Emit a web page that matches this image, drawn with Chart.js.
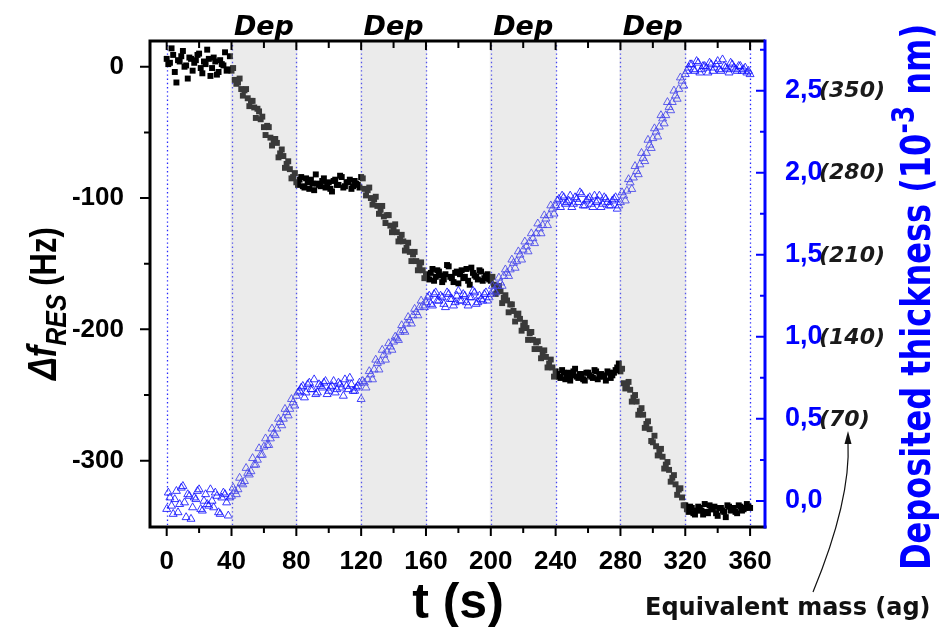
<!DOCTYPE html>
<html>
<head>
<meta charset="utf-8">
<script src="https://cdn.jsdelivr.net/npm/chart.js@4.4.1/dist/chart.umd.min.js"></script>
<style>
  html, body { margin: 0; padding: 0; background: #ffffff; }
  #wrap { width: 940px; height: 627px; }
  canvas { display: block; }
</style>
</head>
<body>
<div id="wrap"><canvas id="c" width="940" height="627"></canvas></div>
<script>
// ---------------- data ----------------
// readings at even seconds
const timesEven = [
  0,2,4,6,8,10,12,14,16,18,20,22,24,26,28,30,32,34,36,38,
  40,42,44,46,48,50,52,54,56,58,60,62,64,66,68,70,72,74,76,78,
  80,82,84,86,88,90,92,94,96,98,100,102,104,106,108,110,112,114,116,118,
  120,122,124,126,128,130,132,134,136,138,140,142,144,146,148,150,152,154,156,158,
  160,162,164,166,168,170,172,174,176,178,180,182,184,186,188,190,192,194,196,198,
  200,202,204,206,208,210,212,214,216,218,220,222,224,226,228,230,232,234,236,238,
  240,242,244,246,248,250,252,254,256,258,260,262,264,266,268,270,272,274,276,278,
  280,282,284,286,288,290,292,294,296,298,300,302,304,306,308,310,312,314,316,318,
  320,322,324,326,328,330,332,334,336,338,340,342,344,346,348,350,352,354,356,358,360
];
// Δf_RES (Hz), left axis, even seconds
const deltaFEven = [
  6,3,9,-12,4,12,1,7,-3,5,10,-5,2,6,-1,4,-4,2,11,-2,
  -3,-10,-12,-17,-18,-24,-26,-31,-32,-40,-46,-45,-54,-57,-58,-66,-68,-74,-78,-84,
  -88,-86,-91,-85,-93,-89,-82,-90,-87,-92,-88,-95,-86,-90,-84,-91,-88,-93,-87,-90,
  -84,-93,-94,-100,-101,-106,-109,-114,-113,-121,-124,-126,-131,-133,-138,-141,-143,-148,-151,-155,
  -158,-162,-154,-160,-156,-164,-158,-152,-161,-157,-165,-155,-160,-163,-153,-159,-162,-156,-161,-158,
  -163,-166,-170,-171,-176,-178,-181,-186,-189,-192,-197,-199,-203,-208,-210,-215,-218,-221,-226,-229,
  -232,-236,-231,-238,-233,-235,-230,-237,-234,-239,-233,-236,-231,-238,-234,-236,-232,-237,-233,-229,
  -232,-241,-243,-246,-252,-255,-262,-265,-272,-276,-286,-289,-293,-297,-303,-307,-313,-318,-322,-328,
  -334,-339,-336,-341,-335,-338,-333,-340,-337,-335,-342,-336,-339,-334,-338,-336,-340,-335,-337,-333,-336
];
// Deposited thickness (10^-3 nm), right axis, even seconds
const thicknessEven = [
  -0.05,0.02,-0.08,0.06,-0.02,0.09,-0.10,0.03,-0.04,0.01,0.07,-0.06,0.04,-0.03,0.00,0.05,-0.07,0.02,0.04,-0.09,
  0.03,0.06,0.07,0.11,0.12,0.17,0.18,0.22,0.25,0.28,0.33,0.34,0.38,0.41,0.44,0.48,0.50,0.54,0.56,0.60,
  0.64,0.67,0.70,0.66,0.72,0.68,0.65,0.71,0.69,0.73,0.67,0.70,0.66,0.72,0.69,0.74,0.68,0.71,0.67,0.70,
  0.62,0.72,0.74,0.77,0.80,0.84,0.85,0.89,0.91,0.94,0.97,0.99,1.03,1.04,1.08,1.10,1.13,1.15,1.18,1.19,
  1.21,1.25,1.19,1.27,1.22,1.24,1.18,1.26,1.23,1.21,1.28,1.22,1.25,1.19,1.24,1.27,1.21,1.23,1.26,1.22,
  1.26,1.28,1.31,1.33,1.37,1.39,1.41,1.45,1.46,1.50,1.53,1.55,1.58,1.60,1.63,1.66,1.68,1.72,1.74,1.78,
  1.80,1.84,1.86,1.81,1.83,1.79,1.85,1.82,1.87,1.80,1.84,1.81,1.86,1.83,1.79,1.85,1.82,1.80,1.84,1.78,
  1.82,1.86,1.89,1.94,1.97,2.01,2.05,2.09,2.12,2.17,2.21,2.25,2.28,2.33,2.35,2.40,2.43,2.47,2.51,2.56,
  2.60,2.64,2.66,2.62,2.67,2.63,2.65,2.61,2.66,2.64,2.68,2.62,2.65,2.63,2.67,2.64,2.62,2.65,2.63,2.61,2.60
];
// readings at odd seconds
const timesOdd = [
  1,3,5,7,9,11,13,15,17,19,21,23,25,27,29,31,33,35,37,39,
  41,43,45,47,49,51,53,55,57,59,61,63,65,67,69,71,73,75,77,79,
  81,83,85,87,89,91,93,95,97,99,101,103,105,107,109,111,113,115,117,119,
  121,123,125,127,129,131,133,135,137,139,141,143,145,147,149,151,153,155,157,159,
  161,163,165,167,169,171,173,175,177,179,181,183,185,187,189,191,193,195,197,199,
  201,203,205,207,209,211,213,215,217,219,221,223,225,227,229,231,233,235,237,239,
  241,243,245,247,249,251,253,255,257,259,261,263,265,267,269,271,273,275,277,279,
  281,283,285,287,289,291,293,295,297,299,301,303,305,307,309,311,313,315,317,319,
  321,323,325,327,329,331,333,335,337,339,341,343,345,347,349,351,353,355,357,359
];
const deltaFOdd = [
  2,14,-4,5,8,0,-9,6,3,9,-1,4,13,-7,7,-6,5,1,-3,8,
  -1,-13,-9,-22,-17,-30,-26,-39,-34,-38,-52,-46,-60,-55,-69,-63,-77,-72,-85,-81,
  -90,-84,-92,-88,-86,-94,-89,-91,-85,-89,-93,-87,-90,-83,-92,-88,-86,-91,-89,-92,
  -85,-98,-92,-105,-99,-112,-106,-119,-113,-126,-120,-133,-128,-140,-134,-148,-141,-155,-149,-161,
  -161,-157,-163,-155,-159,-162,-151,-160,-164,-156,-158,-161,-154,-166,-157,-160,-155,-163,-159,-162,
  -160,-173,-167,-180,-174,-187,-181,-194,-188,-201,-195,-208,-202,-215,-209,-222,-216,-229,-223,-236,
  -234,-237,-233,-235,-239,-232,-236,-234,-238,-233,-235,-237,-232,-236,-235,-239,-233,-235,-231,-226,
  -230,-245,-240,-255,-250,-265,-260,-275,-270,-285,-281,-296,-291,-306,-301,-316,-311,-326,-321,-334,
  -337,-335,-340,-338,-336,-341,-339,-334,-337,-340,-336,-338,-343,-335,-337,-339,-334,-338,-336,-335
];
const thicknessOdd = [
  0.05,-0.03,0.01,-0.07,0.08,-0.01,0.04,-0.11,0.02,0.06,-0.05,0.00,-0.02,0.07,-0.04,0.03,-0.08,0.05,-0.01,0.02,
  0.08,0.04,0.14,0.10,0.20,0.16,0.26,0.22,0.32,0.28,0.38,0.34,0.44,0.40,0.50,0.46,0.56,0.52,0.62,0.58,
  0.66,0.69,0.63,0.71,0.68,0.74,0.66,0.70,0.72,0.65,0.69,0.73,0.68,0.71,0.64,0.70,0.75,0.67,0.69,0.72,
  0.73,0.69,0.79,0.74,0.86,0.80,0.92,0.86,0.96,0.92,1.00,0.98,1.07,1.03,1.12,1.08,1.17,1.13,1.22,1.18,
  1.24,1.20,1.26,1.22,1.25,1.20,1.27,1.23,1.19,1.25,1.22,1.26,1.21,1.24,1.28,1.20,1.25,1.22,1.27,1.24,
  1.31,1.27,1.36,1.31,1.41,1.37,1.47,1.42,1.52,1.47,1.58,1.52,1.63,1.57,1.69,1.63,1.74,1.68,1.80,1.75,
  1.83,1.79,1.85,1.82,1.86,1.81,1.84,1.88,1.80,1.83,1.85,1.79,1.82,1.86,1.81,1.84,1.80,1.83,1.85,1.80,
  1.88,1.83,1.96,1.90,2.04,1.99,2.12,2.07,2.20,2.15,2.27,2.22,2.35,2.30,2.43,2.38,2.50,2.45,2.58,2.53,
  2.62,2.66,2.63,2.68,2.61,2.65,2.64,2.67,2.62,2.66,2.63,2.69,2.64,2.61,2.66,2.63,2.65,2.62,2.64,2.62
];
// deposition intervals (s)
const depStart = [40, 120, 200, 280];
const depEnd   = [80, 160, 240, 320];
const depLabel = "Dep";
// ticks
const xTicks = [0, 40, 80, 120, 160, 200, 240, 280, 320, 360];
const xMinorTicks = [20, 60, 100, 140, 180, 220, 260, 300, 340];
const vLines = [0, 40, 80, 120, 160, 200, 240, 280, 320, 360];
const leftTicks = [-300, -200, -100, 0];
const leftMinorTicks = [-350, -250, -150, -50];
const rightTicks = [0, 0.5, 1.0, 1.5, 2.0, 2.5];
const rightMinorTicks = [0.25, 0.75, 1.25, 1.75, 2.25, 2.75];
const massLabels = ["", "(70)", "(140)", "(210)", "(280)", "(350)"];
const xTitle = "t (s)";
const leftTitleMain = "\u0394f";
const leftTitleSub = "RES";
const leftTitleUnit = " (Hz)";
const rightTitleA = "Deposited thickness (10";
const rightTitleSup = "-3";
const rightTitleB = " nm)";
const noteText = "Equivalent mass (ag)";

// ---------------- chart ----------------
const BLUE = "#0000ff";
const TICK_FONT = { family: "'Liberation Sans', Arial, sans-serif", size: 26, weight: "bold" };
const RTICK_FONT = { family: "'Liberation Sans', Arial, sans-serif", size: 27, weight: "bold" };

function pairs(ts, vs) { return ts.map((t, i) => ({ x: t, y: vs[i] })); }
const dfPoints = pairs(timesEven, deltaFEven).concat(pairs(timesOdd, deltaFOdd)).sort((a, b) => a.x - b.x);
const thPoints = pairs(timesEven, thicknessEven).concat(pairs(timesOdd, thicknessOdd)).sort((a, b) => a.x - b.x);

const decor = {
  id: "decor",
  beforeDatasetsDraw(chart) {
    const { ctx, chartArea: a, scales } = chart;
    const xs = scales.x;
    ctx.save();
    ctx.strokeStyle = "rgba(30,30,255,0.95)";
    ctx.lineWidth = 1.3;
    ctx.setLineDash([1.4, 2.8]);
    vLines.forEach(v => {
      const px = Math.round(xs.getPixelForValue(v)) + 0.5;
      ctx.beginPath(); ctx.moveTo(px, a.top + 4); ctx.lineTo(px, a.bottom - 2); ctx.stroke();
    });
    ctx.restore();
  },
  afterDatasetsDraw(chart) {
    const { ctx, chartArea: a, scales } = chart;
    const xs = scales.x, yl = scales.y, yr = scales.yR;
    ctx.save();
    // deposition bands (translucent grey over the data)
    ctx.fillStyle = "rgba(190,190,190,0.30)";
    depStart.forEach((s, i) => {
      const x0 = xs.getPixelForValue(s) - 1, x1 = xs.getPixelForValue(depEnd[i]) + 1;
      ctx.fillRect(x0, a.top, x1 - x0, a.bottom - a.top);
    });
    // frame
    ctx.lineWidth = 3;
    ctx.strokeStyle = "#000";
    ctx.beginPath();
    ctx.moveTo(a.left, a.top); ctx.lineTo(a.right, a.top);
    ctx.moveTo(a.left, a.top - 1.5); ctx.lineTo(a.left, a.bottom + 1.5);
    ctx.moveTo(a.left - 1.5, a.bottom); ctx.lineTo(a.right + 1.5, a.bottom);
    ctx.stroke();
    ctx.strokeStyle = BLUE;
    ctx.beginPath(); ctx.moveTo(a.right, a.top - 1.5); ctx.lineTo(a.right, a.bottom + 1.5); ctx.stroke();
    // tick marks
    ctx.lineWidth = 2;
    ctx.strokeStyle = "#000";
    ctx.beginPath();
    xTicks.forEach(v => { const p = xs.getPixelForValue(v);
      ctx.moveTo(p, a.bottom); ctx.lineTo(p, a.bottom + 9);
      ctx.moveTo(p, a.top); ctx.lineTo(p, a.top + 9); });
    xMinorTicks.forEach(v => { const p = xs.getPixelForValue(v);
      ctx.moveTo(p, a.bottom); ctx.lineTo(p, a.bottom + 6);
      ctx.moveTo(p, a.top); ctx.lineTo(p, a.top + 7); });
    leftTicks.forEach(v => { const p = yl.getPixelForValue(v);
      ctx.moveTo(a.left, p); ctx.lineTo(a.left - 10, p); });
    leftMinorTicks.forEach(v => { const p = yl.getPixelForValue(v);
      if (p < a.bottom - 2) { ctx.moveTo(a.left, p); ctx.lineTo(a.left - 6, p); } });
    ctx.stroke();
    ctx.strokeStyle = BLUE;
    ctx.beginPath();
    rightTicks.forEach(v => { const p = yr.getPixelForValue(v);
      ctx.moveTo(a.right, p); ctx.lineTo(a.right - 9, p); });
    rightMinorTicks.forEach(v => { const p = yr.getPixelForValue(v);
      ctx.moveTo(a.right, p); ctx.lineTo(a.right - 5, p); });
    ctx.stroke();
    ctx.restore();
  },
  afterDraw(chart) {
    const { ctx, scales } = chart;
    const xs = scales.x, yr = scales.yR;
    ctx.save();
    // Dep labels
    ctx.fillStyle = "#000";
    ctx.font = "italic bold 27px 'DejaVu Sans'";
    ctx.textAlign = "center"; ctx.textBaseline = "alphabetic";
    depStart.forEach((s, i) => {
      const cx = (xs.getPixelForValue(s) + xs.getPixelForValue(depEnd[i])) / 2;
      ctx.fillText(depLabel, cx, 35);
    });
    // mass labels next to right tick labels
    ctx.font = "italic bold 22px 'DejaVu Sans'";
    ctx.textAlign = "left"; ctx.textBaseline = "middle";
    ctx.fillStyle = "#1a1a1a";
    rightTicks.forEach((v, i) => {
      if (massLabels[i]) ctx.fillText(massLabels[i], 819, yr.getPixelForValue(v) + 1);
    });
    // x title
    ctx.fillStyle = "#000";
    ctx.font = "bold 50px 'Liberation Sans'";
    ctx.textAlign = "center"; ctx.textBaseline = "alphabetic";
    ctx.fillText(xTitle, 458, 618);
    // left title (rotated)
    drawVertical(ctx, 56, 380, 1.2, [
      { text: leftTitleMain, font: "italic bold 34px 'Liberation Sans'", color: "#000" },
      { text: leftTitleSub, font: "italic bold 25px 'Liberation Sans'", color: "#000", dy: 8 },
      { text: leftTitleUnit, font: "bold 31px 'Liberation Sans'", color: "#000" }
    ]);
    // right title (rotated)
    drawVertical(ctx, 930, 570, 1.3, [
      { text: rightTitleA, font: "bold 32px 'DejaVu Sans'", color: BLUE },
      { text: rightTitleSup, font: "bold 25px 'DejaVu Sans'", color: BLUE, dy: -12 },
      { text: rightTitleB, font: "bold 32px 'DejaVu Sans'", color: BLUE }
    ]);
    // note + arrow
    ctx.fillStyle = "#111";
    ctx.font = "bold 24px 'DejaVu Sans'";
    ctx.textAlign = "left"; ctx.textBaseline = "alphabetic";
    ctx.fillText(noteText, 645, 615);
    ctx.strokeStyle = "#111"; ctx.lineWidth = 1.2;
    ctx.beginPath(); ctx.moveTo(813, 592); ctx.quadraticCurveTo(851, 500, 848, 442); ctx.stroke();
    ctx.beginPath(); ctx.moveTo(848, 431); ctx.lineTo(844.5, 444); ctx.lineTo(851.5, 444); ctx.closePath(); ctx.fill();
    ctx.restore();
  }
};

function drawVertical(ctx, x, y, sx, runs) {
  ctx.save();
  ctx.translate(x, y); ctx.scale(sx, 1); ctx.rotate(-Math.PI / 2);
  ctx.textAlign = "left"; ctx.textBaseline = "alphabetic";
  let cx = 0;
  runs.forEach(r => {
    ctx.font = r.font; ctx.fillStyle = r.color;
    ctx.fillText(r.text, cx, r.dy || 0);
    cx += ctx.measureText(r.text).width;
  });
  ctx.restore();
}

new Chart(document.getElementById("c"), {
  type: "scatter",
  data: {
    datasets: [
      { label: "Deposited thickness", data: thPoints, yAxisID: "yR",
        pointStyle: "triangle", pointRadius: 4.6, borderWidth: 0.9,
        borderColor: "rgba(20,20,255,0.95)", backgroundColor: "rgba(0,0,0,0)" },
      { label: "Δf RES", data: dfPoints, yAxisID: "y",
        pointStyle: "rect", pointRadius: 4.2, borderWidth: 0,
        borderColor: "#000", backgroundColor: "#000" }
    ]
  },
  options: {
    responsive: false, animation: false, devicePixelRatio: 1,
    events: [],
    layout: { padding: { top: 41, left: 0, right: 0, bottom: 0 } },
    plugins: { legend: { display: false }, tooltip: { enabled: false } },
    scales: {
      x: {
        type: "linear", position: "bottom", min: -10.3, max: 369.2,
        afterFit(s) { s.height = 100; },
        afterBuildTicks(s) { s.ticks = xTicks.map(v => ({ value: v })); },
        grid: { display: false }, border: { display: false },
        ticks: { font: TICK_FONT, color: "#000", padding: 11, maxRotation: 0, autoSkip: false,
                 callback: v => String(v) }
      },
      y: {
        type: "linear", position: "left", min: -350.5, max: 19.6,
        afterFit(s) { s.width = 150; },
        afterBuildTicks(s) { s.ticks = leftTicks.map(v => ({ value: v })); },
        grid: { display: false }, border: { display: false },
        ticks: { font: TICK_FONT, color: "#000", padding: 18, autoSkip: false,
                 callback: v => String(v) }
      },
      yR: {
        type: "linear", position: "right", min: -0.159, max: 2.803,
        afterFit(s) { s.width = 175; },
        afterBuildTicks(s) { s.ticks = rightTicks.map(v => ({ value: v })); },
        grid: { display: false }, border: { display: false },
        ticks: { font: RTICK_FONT, color: BLUE, padding: 12, autoSkip: false,
                 callback: v => v.toFixed(1).replace(".", ",") }
      }
    }
  },
  plugins: [decor]
});
</script>
</body>
</html>
